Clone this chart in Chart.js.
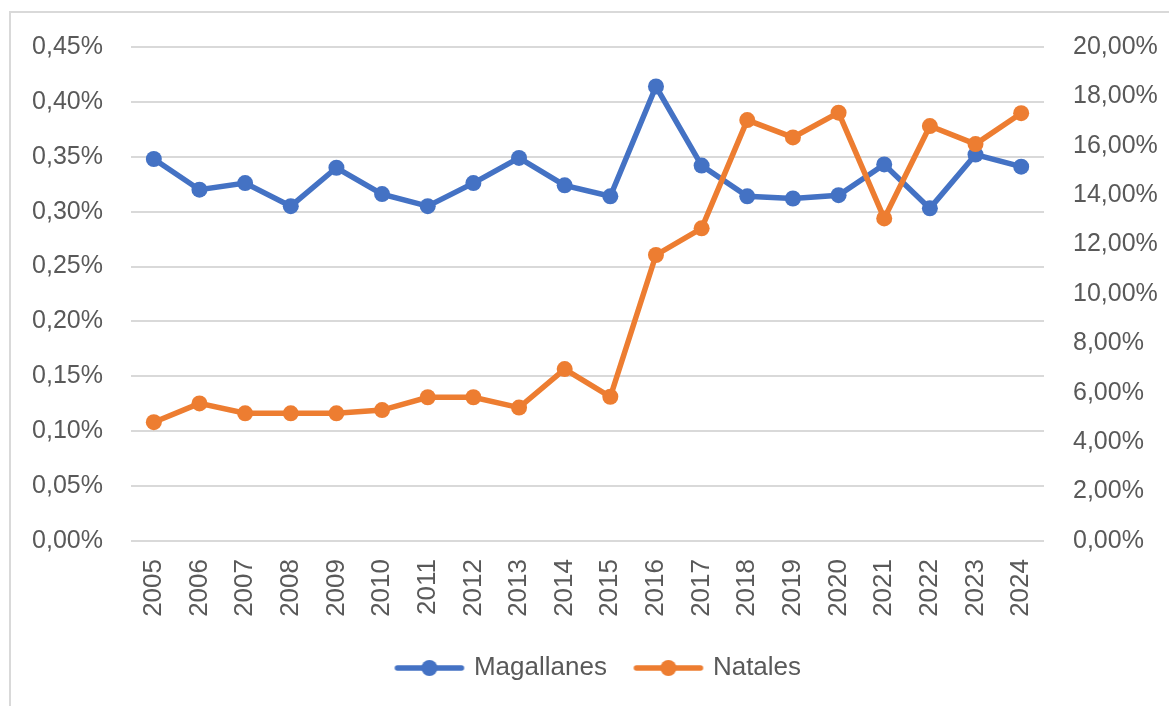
<!DOCTYPE html>
<html lang="es">
<head>
    <meta charset="UTF-8">
    <title>Magallanes - Natales</title>
    <script src="https://cdn.jsdelivr.net/npm/chart.js"></script>
    <style>
        html, body { margin: 0; padding: 0; background: #fff; overflow: hidden; }
        .frame { position: absolute; left: 9px; top: 11px; width: 1200px; height: 750px; border: 2px solid #d9d9d9; box-sizing: border-box; }
        .chart-container { position: absolute; left: 0; top: 0; width: 1169px; height: 706px; }
    </style>
</head>
<body>
    <div class="frame"></div>
    <div class="chart-container">
        <canvas id="lineChart"></canvas>
    </div>
    <script>
        // Datos
        const years = ['2005', '2006', '2007', '2008', '2009', '2010', '2011', '2012', '2013', '2014',
                       '2015', '2016', '2017', '2018', '2019', '2020', '2021', '2022', '2023', '2024'];
        // eje izquierdo (%)
        const magallanes = [0.348, 0.320, 0.326, 0.305, 0.340, 0.316, 0.305, 0.326, 0.349, 0.324,
                            0.314, 0.414, 0.342, 0.314, 0.312, 0.315, 0.343, 0.303, 0.352, 0.341];
        // eje derecho (%)
        const natales = [4.81, 5.57, 5.17, 5.17, 5.17, 5.30, 5.82, 5.82, 5.40, 6.96,
                         5.84, 11.58, 12.66, 17.04, 16.34, 17.34, 13.06, 16.80, 16.07, 17.32];
        const leftTicks = [0, 0.05, 0.10, 0.15, 0.20, 0.25, 0.30, 0.35, 0.40, 0.45];
        const rightTicks = [0, 2, 4, 6, 8, 10, 12, 14, 16, 18, 20];

        const blue = '#4472C4';
        const orange = '#ED7D31';
        const textColor = '#595959';
        const font = "'Liberation Sans', Arial, sans-serif";

        // icono de la leyenda: línea con punto
        function legendIcon(color) {
            const c = document.createElement('canvas');
            c.width = 72; c.height = 18;
            const ctx = c.getContext('2d');
            ctx.strokeStyle = color;
            ctx.lineWidth = 5.5;
            ctx.lineCap = 'round';
            ctx.beginPath();
            ctx.moveTo(4, 9);
            ctx.lineTo(68, 9);
            ctx.stroke();
            ctx.fillStyle = color;
            ctx.beginPath();
            ctx.arc(36, 9, 8, 0, Math.PI * 2);
            ctx.fill();
            return c;
        }
        const icons = [legendIcon(blue), legendIcon(orange)];

        const fmt = (v, d) => v.toFixed(d).replace('.', ',') + '%';

        // mover la leyenda a su sitio
        const legendShift = {
            id: 'legendShift',
            afterLayout(chart) {
                const lg = chart.legend;
                const h = lg.bottom - lg.top;
                lg.left += 15; lg.right += 15;
                lg.top = 625; lg.bottom = 625 + h;
            }
        };

        const config = {
            type: 'line',
            data: {
                labels: years,
                datasets: [{
                    label: 'Magallanes',
                    data: magallanes,
                    yAxisID: 'y',
                    borderColor: blue,
                    backgroundColor: blue,
                    borderWidth: 5.5,
                    pointRadius: 8,
                    pointBorderWidth: 0,
                    order: 1
                }, {
                    label: 'Natales',
                    data: natales,
                    yAxisID: 'y1',
                    borderColor: orange,
                    backgroundColor: orange,
                    borderWidth: 5.5,
                    pointRadius: 8,
                    pointBorderWidth: 0,
                    order: 0
                }]
            },
            options: {
                responsive: true,
                maintainAspectRatio: false,
                animation: false,
                layout: { padding: { top: 47, bottom: 0, left: 0, right: 0 } },
                scales: {
                    x: {
                        offset: true,
                        grid: { display: false },
                        border: { display: false },
                        ticks: {
                            color: textColor,
                            font: { family: font, size: 26 },
                            minRotation: 90,
                            maxRotation: 90,
                            padding: 10
                        },
                        afterFit: s => { s.height = 165 - (706 - 541 - 165) - 0; }
                    },
                    y: {
                        position: 'left',
                        min: 0,
                        max: 0.45,
                        afterBuildTicks: s => { s.ticks = leftTicks.map(v => ({ value: v })); },
                        grid: { color: '#d9d9d9', lineWidth: 2, drawTicks: false },
                        border: { display: false },
                        ticks: {
                            color: textColor,
                            font: { family: font, size: 25 },
                            padding: 28,
                            callback: v => fmt(v, 2)
                        },
                        afterFit: s => { s.width = 131; }
                    },
                    y1: {
                        position: 'right',
                        min: 0,
                        max: 20,
                        afterBuildTicks: s => { s.ticks = rightTicks.map(v => ({ value: v })); },
                        grid: { display: false, drawTicks: false },
                        border: { display: false },
                        ticks: {
                            color: textColor,
                            font: { family: font, size: 25 },
                            padding: 29,
                            callback: v => fmt(v, 2)
                        },
                        afterFit: s => { s.width = 125; }
                    }
                },
                plugins: {
                    legend: {
                        position: 'bottom',
                        labels: {
                            color: textColor,
                            font: { family: font, size: 26 },
                            usePointStyle: true,
                            pointStyleWidth: 63,
                            padding: 30,
                            sort: (a, b) => a.datasetIndex - b.datasetIndex,
                            generateLabels: chart => {
                                const items = Chart.defaults.plugins.legend.labels.generateLabels(chart);
                                items.forEach(it => { it.pointStyle = icons[it.datasetIndex]; });
                                return items;
                            }
                        }
                    },
                    tooltip: { enabled: false }
                }
            },
            plugins: [legendShift]
        };

        const lineChart = new Chart(document.getElementById('lineChart'), config);

        // ajustar la altura del eje x para que el área del gráfico termine en y=541
        const lg = lineChart.legend;
        const xHeight = 706 - 541 - (lg.height || 0);
        lineChart.options.scales.x.afterFit = s => { s.height = xHeight; };
        lineChart.update();
    </script>
</body>
</html>
